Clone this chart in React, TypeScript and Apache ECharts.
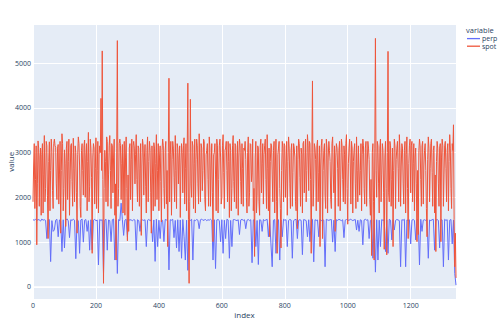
import React, { useEffect, useRef } from "react";
import * as echarts from "echarts";

// Index spacing between kept rows of each series.
const PERP_STEP = 4;
const SPOT_STEP = 2;
const INDEX_MAX = 1344;

const seriesNames = ["perp", "spot"];
const seriesColors = ["#636efa", "#EF553B"];

const perp = [
  1500, 1490, 1510, 1480, 1505, 1495, 1470, 1515, 1490, 1500, 1485, 1080, 1495, 1505, 565, 1480, 1240, 1275, 1490, 1510,
  1120, 1495, 1480, 790, 1500, 870, 1490, 1520, 1475, 1100, 1500, 1485, 1510, 1490, 630, 1505, 1480, 750, 1495, 1515,
  1000, 1490, 1505, 1240, 1480, 820, 1500, 830, 1490, 1510, 1475, 1495, 490, 1505, 1485, 1500, 300, 1490, 1510, 820,
  1495, 1480, 1010, 1500, 1515, 600, 1490, 300, 1505, 1480, 1870, 1500, 1150, 1490, 1510, 1120, 1485, 1500, 1495, 1475,
  1505, 1490, 820, 1500, 1480, 1240, 1510, 1495, 1485, 1500, 900, 1490, 1505, 1480, 1500, 1010, 1495, 570, 1510, 900,
  1490, 1080, 1500, 1485, 1010, 1505, 1495, 1480, 380, 1500, 1490, 1510, 1100, 1485, 870, 1500, 790, 1495, 640, 1505,
  1120, 600, 1490, 370, 1500, 1485, 1510, 600, 1495, 1480, 1505, 1490, 1300, 1500, 1515, 1485, 1495, 1505, 1480, 1500,
  1490, 1510, 1485, 600, 1500, 410, 1495, 1505, 1480, 1010, 1500, 750, 1490, 1080, 1510, 1495, 640, 1485, 900, 1500,
  1505, 1490, 1480, 1500, 1170, 1495, 1510, 1485, 1500, 1300, 1490, 1505, 1480, 1500, 540, 1495, 1510, 900, 1485, 500,
  1500, 1490, 1240, 1505, 1480, 1495, 1510, 1120, 1500, 960, 450, 1490, 1505, 750, 1485, 1500, 600, 1495, 1120, 1510,
  1490, 1500, 900, 1485, 1505, 1495, 640, 1480, 1500, 1510, 1080, 1490, 1500, 1485, 720, 1505, 1495, 1480, 1120, 1500,
  1010, 1490, 1510, 560, 1500, 1485, 1495, 1120, 1505, 1480, 1500, 1490, 450, 1510, 1495, 1485, 1500, 1505, 1000, 1490,
  790, 1500, 1485, 1510, 1495, 1480, 1500, 1100, 1490, 1505, 1495, 1485, 1510, 1500, 1480, 1495, 1505, 1270, 1490, 1240,
  1500, 1485, 940, 1495, 1510, 1490, 1500, 1080, 1485, 1505, 640, 1495, 330, 1500, 600, 1490, 900, 1505, 1485, 1500,
  790, 1495, 750, 1510, 1490, 1050, 1500, 1270, 1485, 1505, 1495, 1480, 450, 1500, 1490, 1510, 450, 1495, 1485, 1500,
  960, 1490, 1505, 1485, 1050, 1500, 1495, 490, 1510, 1240, 1490, 1500, 1485, 1505, 640, 1495, 1480, 1500, 1510, 820,
  1490, 1505, 1485, 870, 1500, 1495, 450, 1510, 1485, 1500, 600, 1490, 1505, 960, 1495, 300, 40,
];

const spot = [
  1900, 2700, 3200, 1750, 2400, 3150, 940, 2300, 3260, 3100, 1800, 2900, 3100, 1600, 2950, 3200, 1650, 2500, 3380, 1900,
  2200, 3250, 3150, 2050, 1080, 2800, 3240, 1700, 2600, 3300, 3020, 2150, 1750, 3200, 3300, 3150, 3120, 2300, 1950, 3100,
  3180, 1850, 2500, 3250, 1200, 2600, 3420, 3200, 1700, 2200, 3060, 2750, 1350, 3100, 3250, 1950, 2800, 3300, 1600, 2400,
  3150, 3200, 2350, 1800, 3320, 2650, 1900, 3150, 3000, 2100, 1200, 2950, 3350, 3200, 2700, 1800, 1550, 3050, 3200, 2600,
  2050, 3150, 3280, 2000, 2900, 3200, 1700, 2800, 3450, 1900, 2250, 3300, 3100, 2450, 750, 2900, 3200, 3100, 1850, 2650,
  3330, 1750, 2600, 3250, 1650, 2950, 3150, 3000, 4210, 2600, 5270, 2400, 80, 2200, 3050, 2800, 1900, 3350, 3250, 1800,
  2500, 3150, 3380, 2600, 1750, 3200, 3150, 2100, 2900, 3300, 1600, 2300, 600, 3100, 5500, 1800, 2200, 3200, 3300, 3150,
  1950, 2750, 3180, 1650, 2700, 3250, 1600, 2900, 3350, 2200, 1030, 2500, 1240, 3100, 3200, 1950, 2850, 3300, 1700, 3150,
  3250, 3100, 2300, 2950, 3400, 2400, 1900, 3150, 3100, 1800, 2650, 3200, 1150, 2700, 3300, 3150, 2050, 2900, 3180, 2250,
  1650, 3050, 3350, 1900, 2800, 3250, 3050, 2100, 1200, 3150, 2500, 1700, 3220, 3100, 1800, 2750, 3400, 1950, 2600, 3200,
  1700, 2900, 3150, 2350, 1450, 3050, 3300, 3150, 2200, 1750, 3050, 3250, 1850, 2600, 900, 3000, 4660, 1900, 2950, 3250,
  1600, 2850, 3250, 3100, 2450, 1900, 3380, 2600, 1750, 3200, 3100, 2300, 2900, 3150, 1550, 2700, 3200, 3000, 2100, 3150,
  3330, 1850, 2650, 3200, 1700, 3100, 4550, 1500, 80, 1900, 4190, 2300, 2000, 3250, 3150, 1750, 2750, 3300, 1650, 2850,
  3300, 3150, 2300, 1850, 3420, 2700, 1900, 3200, 3100, 2150, 2600, 3300, 3250, 1950, 1700, 2950, 3050, 3200, 2400, 1800,
  3350, 3100, 1800, 2700, 3200, 2100, 1010, 2950, 3000, 3200, 2500, 1700, 3300, 3150, 1650, 2400, 3150, 3300, 2900, 1850,
  2000, 3150, 3400, 2550, 1750, 3050, 3100, 3250, 2600, 1900, 3250, 2800, 1550, 3200, 3050, 1700, 2200, 3150, 3380, 2350,
  1900, 3200, 3150, 1750, 2700, 3250, 1600, 2900, 3300, 3150, 2350, 1850, 3200, 2650, 1800, 3100, 3050, 3250, 2850, 2000,
  1650, 3000, 3350, 1800, 2100, 3200, 3180, 2350, 2550, 3300, 1700, 2200, 680, 2900, 3250, 1650, 2050, 3150, 3100, 1900,
  1600, 3150, 3300, 2100, 2750, 3200, 1850, 2950, 3150, 3300, 2400, 1750, 3400, 2650, 1700, 3100, 1120, 2800, 3200, 3150,
  2500, 1900, 3050, 3250, 1650, 2700, 3300, 1900, 750, 2950, 3100, 3250, 2200, 1750, 870, 2600, 3250, 3100, 1900, 3200,
  3150, 2000, 2650, 3250, 1600, 2800, 3350, 3100, 2300, 1750, 3050, 3200, 1800, 2550, 3200, 3100, 2900, 1900, 1700, 3150,
  1300, 2850, 3300, 3200, 2450, 1800, 3100, 2950, 1650, 3200, 3250, 2100, 2700, 3300, 1900, 2600, 3400, 3150, 2150, 3250,
  3200, 2400, 750, 2900, 4600, 1800, 2300, 3200, 3100, 2850, 1700, 3150, 3280, 1900, 2550, 3150, 900, 2700, 3150, 3300,
  1080, 2600, 3050, 3200, 2050, 1750, 3300, 3100, 1650, 2900, 3250, 3050, 2800, 1950, 1750, 3200, 3350, 2500, 2100, 3150,
  1240, 2900, 3200, 3100, 2650, 1800, 3050, 3250, 1700, 2500, 3300, 3150, 2400, 1900, 3150, 2950, 1850, 3200, 3400, 2200,
  1400, 2750, 3100, 3300, 2700, 1850, 3250, 3100, 1650, 2800, 3050, 3200, 2300, 1750, 3350, 2600, 1900, 3150, 3150, 2050,
  2600, 3200, 1700, 2950, 3300, 3150, 2200, 1850, 3100, 3250, 1800, 2700, 3250, 3100, 2850, 1950, 1600, 2400, 700, 3000,
  3200, 1900, 600, 3100, 5550, 2600, 2000, 3250, 3150, 2300, 1650, 3100, 3300, 1900, 2500, 3200, 3050, 2100, 840, 2900,
  3250, 2200, 715, 3000, 5260, 2100, 1900, 3250, 3150, 1800, 2400, 3100, 900, 2600, 3300, 3150, 1750, 2850, 3100, 3250,
  2650, 1900, 3400, 3050, 1800, 2700, 3200, 3100, 2300, 1850, 3050, 3250, 1650, 2950, 3350, 2200, 1080, 2750, 3150, 3300,
  2100, 3150, 3250, 1900, 2750, 3200, 1700, 2900, 3100, 2300, 1010, 2600, 1170, 3050, 3300, 3150, 2400, 1800, 3150, 3250,
  1850, 2700, 3050, 3200, 2600, 1750, 1120, 2850, 3350, 3100, 1900, 2650, 3200, 3300, 2550, 1800, 3050, 3150, 1650, 2500,
  790, 2800, 3250, 3100, 2300, 1800, 3100, 3200, 1010, 2900, 3300, 3150, 1800, 2500, 3150, 3250, 2650, 1900, 3050, 3200,
  1700, 2800, 3400, 3100, 2200, 1750, 3200, 3050, 3620, 1500, 450, 1200, 200,
];

const toPairs = (values: number[], step: number) => values.map((v, i) => [i * step, v]);

const TICK_COLOR = "#2a3f5f";
const FONT = "'Open Sans', 'Noto Sans', sans-serif";

// Legend block on the right: title, then one short line + name per series.
const LEGEND_X = 466;
const LEGEND_TITLE_Y = 29.5;
const LEGEND_ROW_Y = [38.6, 46.2];

export default function App() {
  const ref = useRef<HTMLDivElement>(null);

  useEffect(() => {
    if (!ref.current) return;
    const chart = echarts.init(ref.current, undefined, { renderer: "svg" });

    const legendGraphics: any[] = [
      {
        type: "text",
        x: LEGEND_X,
        y: LEGEND_TITLE_Y,
        style: {
          text: "variable",
          fill: TICK_COLOR,
          fontSize: 7.5,
          lineHeight: 7.5,
          fontFamily: FONT,
          verticalAlign: "middle",
        },
      },
    ];
    seriesNames.forEach((name, i) => {
      legendGraphics.push({
        type: "line",
        shape: { x1: LEGEND_X + 1, y1: LEGEND_ROW_Y[i], x2: LEGEND_X + 14, y2: LEGEND_ROW_Y[i] },
        style: { stroke: seriesColors[i], lineWidth: 1.3 },
      });
      legendGraphics.push({
        type: "text",
        x: LEGEND_X + 16,
        y: LEGEND_ROW_Y[i],
        style: {
          text: name,
          fill: TICK_COLOR,
          fontSize: 7,
          lineHeight: 7,
          fontFamily: FONT,
          verticalAlign: "middle",
        },
      });
    });

    chart.setOption({
      animation: false,
      backgroundColor: "#ffffff",
      textStyle: { fontFamily: FONT },
      grid: {
        left: 33,
        right: 44,
        top: 24.5,
        bottom: 34,
        show: true,
        backgroundColor: "#E5ECF6",
        borderWidth: 0,
        containLabel: false,
        outerBoundsMode: "none",
      },
      xAxis: {
        type: "value",
        min: 0,
        max: INDEX_MAX,
        minInterval: 200,
        maxInterval: 200,
        name: "index",
        nameLocation: "middle",
        nameGap: 11,
        nameMoveOverlap: false,
        nameTextStyle: { color: TICK_COLOR, fontSize: 8, fontFamily: FONT },
        axisLine: { show: false },
        axisTick: { show: false },
        axisLabel: {
          color: TICK_COLOR,
          fontSize: 7,
          margin: 3,
          showMaxLabel: false,
          fontFamily: FONT,
          formatter: (v: number) => String(v),
        },
        splitLine: { show: true, lineStyle: { color: "#ffffff", width: 1 } },
      },
      yAxis: {
        type: "value",
        min: -270,
        max: 5860,
        minInterval: 1000,
        maxInterval: 1000,
        name: "value",
        nameLocation: "middle",
        nameGap: 19,
        nameRotate: 90,
        nameMoveOverlap: false,
        nameTextStyle: { color: TICK_COLOR, fontSize: 8, fontFamily: FONT },
        axisLine: { show: false },
        axisTick: { show: false },
        axisLabel: {
          color: TICK_COLOR,
          fontSize: 7,
          margin: 2,
          showMinLabel: false,
          showMaxLabel: false,
          fontFamily: FONT,
          formatter: (v: number) => String(v),
        },
        splitLine: { show: true, lineStyle: { color: "#ffffff", width: 1 } },
      },
      graphic: legendGraphics,
      series: [
        {
          name: seriesNames[0],
          type: "line",
          data: toPairs(perp, PERP_STEP),
          showSymbol: false,
          symbol: "none",
          color: seriesColors[0],
          lineStyle: { width: 1, color: seriesColors[0] },
          markLine: {
            silent: true,
            symbol: "none",
            label: { show: false },
            lineStyle: { color: "#ffffff", width: 1.6, type: "solid" },
            data: [{ yAxis: 0 }],
          },
        },
        {
          name: seriesNames[1],
          type: "line",
          data: toPairs(spot, SPOT_STEP),
          showSymbol: false,
          symbol: "none",
          color: seriesColors[1],
          lineStyle: { width: 1, color: seriesColors[1] },
        },
      ],
    });

    return () => chart.dispose();
  }, []);

  return (
    <div
      ref={ref}
      style={{ position: "absolute", left: 0, top: 0, width: 500, height: 333 }}
    />
  );
}
